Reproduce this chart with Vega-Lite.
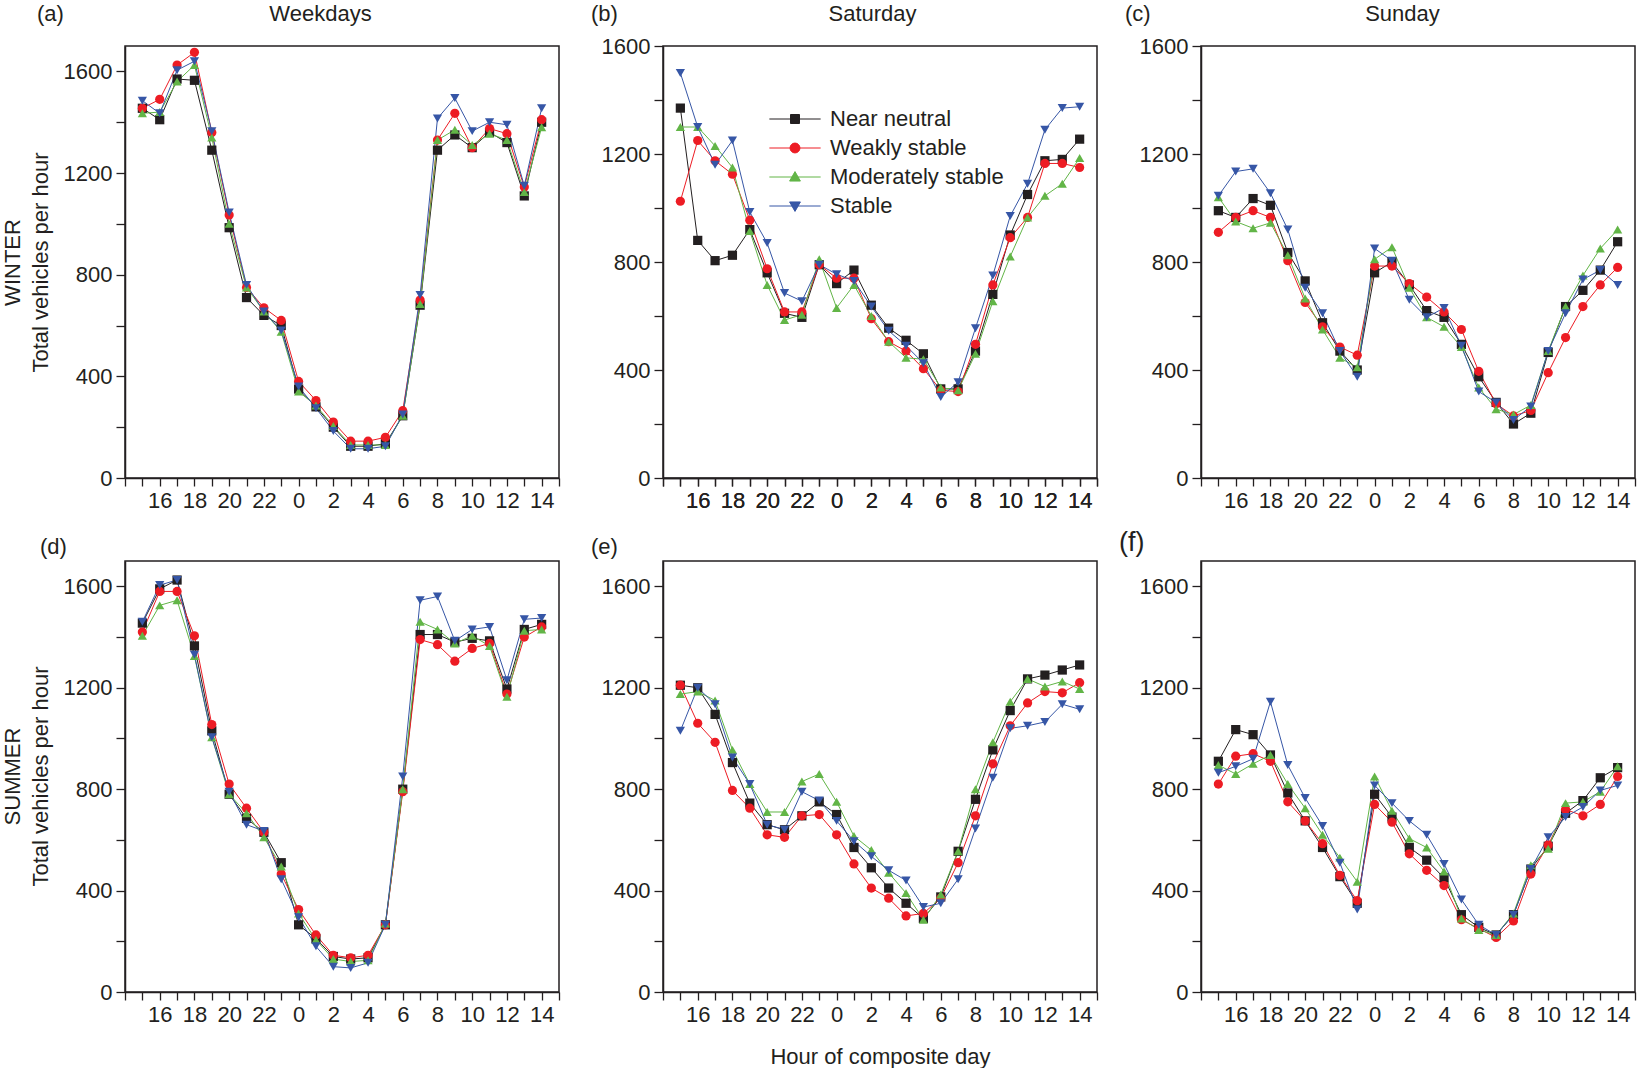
{
  "$schema": "https://vega.github.io/schema/vega-lite/v6.json",
  "padding": {"left": 0, "top": 1, "right": 0, "bottom": 0},
  "config": {
    "font": "Liberation Sans",
    "view": {"stroke": "#231f20", "strokeWidth": 1.5},
    "axis": {"grid": false, "domainColor": "#231f20", "domainWidth": 1.5, "tickColor": "#231f20", "tickWidth": 1.3, "labelFont": "Liberation Sans", "labelFontSize": 22, "labelColor": "#231f20", "labelPadding": 4, "titleFont": "Liberation Sans", "titleFontSize": 22, "titleFontWeight": "normal", "titleColor": "#231f20"},
    "title": {"font": "Liberation Sans", "fontSize": 22, "fontWeight": "normal", "color": "#231f20"},
    "legend": {"labelFont": "Liberation Sans"}
  },
  "datasets": {
    "a": [
      {"c":"Near neutral","i":0,"v":1455},{"c":"Near neutral","i":1,"v":1410},{"c":"Near neutral","i":2,"v":1570},{"c":"Near neutral","i":3,"v":1565},{"c":"Near neutral","i":4,"v":1290},{"c":"Near neutral","i":5,"v":985},{"c":"Near neutral","i":6,"v":710},{"c":"Near neutral","i":7,"v":640},{"c":"Near neutral","i":8,"v":600},{"c":"Near neutral","i":9,"v":350},{"c":"Near neutral","i":10,"v":280},{"c":"Near neutral","i":11,"v":200},{"c":"Near neutral","i":12,"v":125},{"c":"Near neutral","i":13,"v":125},{"c":"Near neutral","i":14,"v":135},{"c":"Near neutral","i":15,"v":245},{"c":"Near neutral","i":16,"v":680},{"c":"Near neutral","i":17,"v":1290},{"c":"Near neutral","i":18,"v":1350},{"c":"Near neutral","i":19,"v":1300},{"c":"Near neutral","i":20,"v":1360},{"c":"Near neutral","i":21,"v":1320},{"c":"Near neutral","i":22,"v":1110},{"c":"Near neutral","i":23,"v":1400},
      {"c":"Weakly stable","i":0,"v":1455},{"c":"Weakly stable","i":1,"v":1490},{"c":"Weakly stable","i":2,"v":1625},{"c":"Weakly stable","i":3,"v":1675},{"c":"Weakly stable","i":4,"v":1360},{"c":"Weakly stable","i":5,"v":1035},{"c":"Weakly stable","i":6,"v":750},{"c":"Weakly stable","i":7,"v":670},{"c":"Weakly stable","i":8,"v":620},{"c":"Weakly stable","i":9,"v":380},{"c":"Weakly stable","i":10,"v":305},{"c":"Weakly stable","i":11,"v":220},{"c":"Weakly stable","i":12,"v":145},{"c":"Weakly stable","i":13,"v":145},{"c":"Weakly stable","i":14,"v":160},{"c":"Weakly stable","i":15,"v":265},{"c":"Weakly stable","i":16,"v":700},{"c":"Weakly stable","i":17,"v":1330},{"c":"Weakly stable","i":18,"v":1435},{"c":"Weakly stable","i":19,"v":1300},{"c":"Weakly stable","i":20,"v":1375},{"c":"Weakly stable","i":21,"v":1355},{"c":"Weakly stable","i":22,"v":1145},{"c":"Weakly stable","i":23,"v":1410},
      {"c":"Moderately stable","i":0,"v":1435},{"c":"Moderately stable","i":1,"v":1440},{"c":"Moderately stable","i":2,"v":1560},{"c":"Moderately stable","i":3,"v":1625},{"c":"Moderately stable","i":4,"v":1340},{"c":"Moderately stable","i":5,"v":1000},{"c":"Moderately stable","i":6,"v":750},{"c":"Moderately stable","i":7,"v":655},{"c":"Moderately stable","i":8,"v":575},{"c":"Moderately stable","i":9,"v":340},{"c":"Moderately stable","i":10,"v":285},{"c":"Moderately stable","i":11,"v":205},{"c":"Moderately stable","i":12,"v":130},{"c":"Moderately stable","i":13,"v":130},{"c":"Moderately stable","i":14,"v":130},{"c":"Moderately stable","i":15,"v":245},{"c":"Moderately stable","i":16,"v":685},{"c":"Moderately stable","i":17,"v":1330},{"c":"Moderately stable","i":18,"v":1370},{"c":"Moderately stable","i":19,"v":1310},{"c":"Moderately stable","i":20,"v":1355},{"c":"Moderately stable","i":21,"v":1330},{"c":"Moderately stable","i":22,"v":1125},{"c":"Moderately stable","i":23,"v":1380},
      {"c":"Stable","i":0,"v":1485},{"c":"Stable","i":1,"v":1435},{"c":"Stable","i":2,"v":1605},{"c":"Stable","i":3,"v":1640},{"c":"Stable","i":4,"v":1365},{"c":"Stable","i":5,"v":1045},{"c":"Stable","i":6,"v":760},{"c":"Stable","i":7,"v":655},{"c":"Stable","i":8,"v":580},{"c":"Stable","i":9,"v":360},{"c":"Stable","i":10,"v":275},{"c":"Stable","i":11,"v":185},{"c":"Stable","i":12,"v":115},{"c":"Stable","i":13,"v":115},{"c":"Stable","i":14,"v":125},{"c":"Stable","i":15,"v":250},{"c":"Stable","i":16,"v":720},{"c":"Stable","i":17,"v":1415},{"c":"Stable","i":18,"v":1495},{"c":"Stable","i":19,"v":1365},{"c":"Stable","i":20,"v":1400},{"c":"Stable","i":21,"v":1390},{"c":"Stable","i":22,"v":1150},{"c":"Stable","i":23,"v":1455}
    ],
    "b": [
      {"c":"Near neutral","i":0,"v":1370},{"c":"Near neutral","i":1,"v":880},{"c":"Near neutral","i":2,"v":805},{"c":"Near neutral","i":3,"v":825},{"c":"Near neutral","i":4,"v":920},{"c":"Near neutral","i":5,"v":760},{"c":"Near neutral","i":6,"v":610},{"c":"Near neutral","i":7,"v":595},{"c":"Near neutral","i":8,"v":790},{"c":"Near neutral","i":9,"v":720},{"c":"Near neutral","i":10,"v":770},{"c":"Near neutral","i":11,"v":640},{"c":"Near neutral","i":12,"v":555},{"c":"Near neutral","i":13,"v":510},{"c":"Near neutral","i":14,"v":460},{"c":"Near neutral","i":15,"v":330},{"c":"Near neutral","i":16,"v":330},{"c":"Near neutral","i":17,"v":470},{"c":"Near neutral","i":18,"v":680},{"c":"Near neutral","i":19,"v":900},{"c":"Near neutral","i":20,"v":1050},{"c":"Near neutral","i":21,"v":1175},{"c":"Near neutral","i":22,"v":1180},{"c":"Near neutral","i":23,"v":1255},
      {"c":"Weakly stable","i":0,"v":1025},{"c":"Weakly stable","i":1,"v":1250},{"c":"Weakly stable","i":2,"v":1175},{"c":"Weakly stable","i":3,"v":1125},{"c":"Weakly stable","i":4,"v":955},{"c":"Weakly stable","i":5,"v":775},{"c":"Weakly stable","i":6,"v":615},{"c":"Weakly stable","i":7,"v":615},{"c":"Weakly stable","i":8,"v":790},{"c":"Weakly stable","i":9,"v":740},{"c":"Weakly stable","i":10,"v":740},{"c":"Weakly stable","i":11,"v":590},{"c":"Weakly stable","i":12,"v":505},{"c":"Weakly stable","i":13,"v":470},{"c":"Weakly stable","i":14,"v":405},{"c":"Weakly stable","i":15,"v":325},{"c":"Weakly stable","i":16,"v":320},{"c":"Weakly stable","i":17,"v":495},{"c":"Weakly stable","i":18,"v":715},{"c":"Weakly stable","i":19,"v":890},{"c":"Weakly stable","i":20,"v":965},{"c":"Weakly stable","i":21,"v":1165},{"c":"Weakly stable","i":22,"v":1165},{"c":"Weakly stable","i":23,"v":1150},
      {"c":"Moderately stable","i":0,"v":1300},{"c":"Moderately stable","i":1,"v":1300},{"c":"Moderately stable","i":2,"v":1230},{"c":"Moderately stable","i":3,"v":1150},{"c":"Moderately stable","i":4,"v":915},{"c":"Moderately stable","i":5,"v":715},{"c":"Moderately stable","i":6,"v":585},{"c":"Moderately stable","i":7,"v":605},{"c":"Moderately stable","i":8,"v":810},{"c":"Moderately stable","i":9,"v":630},{"c":"Moderately stable","i":10,"v":715},{"c":"Moderately stable","i":11,"v":600},{"c":"Moderately stable","i":12,"v":505},{"c":"Moderately stable","i":13,"v":445},{"c":"Moderately stable","i":14,"v":440},{"c":"Moderately stable","i":15,"v":335},{"c":"Moderately stable","i":16,"v":325},{"c":"Moderately stable","i":17,"v":460},{"c":"Moderately stable","i":18,"v":655},{"c":"Moderately stable","i":19,"v":820},{"c":"Moderately stable","i":20,"v":965},{"c":"Moderately stable","i":21,"v":1045},{"c":"Moderately stable","i":22,"v":1090},{"c":"Moderately stable","i":23,"v":1185},
      {"c":"Stable","i":0,"v":1500},{"c":"Stable","i":1,"v":1300},{"c":"Stable","i":2,"v":1160},{"c":"Stable","i":3,"v":1250},{"c":"Stable","i":4,"v":985},{"c":"Stable","i":5,"v":870},{"c":"Stable","i":6,"v":685},{"c":"Stable","i":7,"v":655},{"c":"Stable","i":8,"v":790},{"c":"Stable","i":9,"v":755},{"c":"Stable","i":10,"v":730},{"c":"Stable","i":11,"v":635},{"c":"Stable","i":12,"v":545},{"c":"Stable","i":13,"v":490},{"c":"Stable","i":14,"v":425},{"c":"Stable","i":15,"v":300},{"c":"Stable","i":16,"v":355},{"c":"Stable","i":17,"v":555},{"c":"Stable","i":18,"v":750},{"c":"Stable","i":19,"v":970},{"c":"Stable","i":20,"v":1090},{"c":"Stable","i":21,"v":1290},{"c":"Stable","i":22,"v":1370},{"c":"Stable","i":23,"v":1375}
    ],
    "c": [
      {"c":"Near neutral","i":0,"v":990},{"c":"Near neutral","i":1,"v":965},{"c":"Near neutral","i":2,"v":1035},{"c":"Near neutral","i":3,"v":1010},{"c":"Near neutral","i":4,"v":835},{"c":"Near neutral","i":5,"v":730},{"c":"Near neutral","i":6,"v":575},{"c":"Near neutral","i":7,"v":470},{"c":"Near neutral","i":8,"v":400},{"c":"Near neutral","i":9,"v":760},{"c":"Near neutral","i":10,"v":800},{"c":"Near neutral","i":11,"v":715},{"c":"Near neutral","i":12,"v":620},{"c":"Near neutral","i":13,"v":595},{"c":"Near neutral","i":14,"v":495},{"c":"Near neutral","i":15,"v":375},{"c":"Near neutral","i":16,"v":280},{"c":"Near neutral","i":17,"v":200},{"c":"Near neutral","i":18,"v":240},{"c":"Near neutral","i":19,"v":465},{"c":"Near neutral","i":20,"v":635},{"c":"Near neutral","i":21,"v":695},{"c":"Near neutral","i":22,"v":770},{"c":"Near neutral","i":23,"v":875},
      {"c":"Weakly stable","i":0,"v":910},{"c":"Weakly stable","i":1,"v":965},{"c":"Weakly stable","i":2,"v":990},{"c":"Weakly stable","i":3,"v":965},{"c":"Weakly stable","i":4,"v":805},{"c":"Weakly stable","i":5,"v":650},{"c":"Weakly stable","i":6,"v":560},{"c":"Weakly stable","i":7,"v":485},{"c":"Weakly stable","i":8,"v":455},{"c":"Weakly stable","i":9,"v":785},{"c":"Weakly stable","i":10,"v":785},{"c":"Weakly stable","i":11,"v":720},{"c":"Weakly stable","i":12,"v":670},{"c":"Weakly stable","i":13,"v":615},{"c":"Weakly stable","i":14,"v":550},{"c":"Weakly stable","i":15,"v":395},{"c":"Weakly stable","i":16,"v":275},{"c":"Weakly stable","i":17,"v":230},{"c":"Weakly stable","i":18,"v":250},{"c":"Weakly stable","i":19,"v":390},{"c":"Weakly stable","i":20,"v":520},{"c":"Weakly stable","i":21,"v":635},{"c":"Weakly stable","i":22,"v":715},{"c":"Weakly stable","i":23,"v":780},
      {"c":"Moderately stable","i":0,"v":1040},{"c":"Moderately stable","i":1,"v":950},{"c":"Moderately stable","i":2,"v":925},{"c":"Moderately stable","i":3,"v":945},{"c":"Moderately stable","i":4,"v":825},{"c":"Moderately stable","i":5,"v":665},{"c":"Moderately stable","i":6,"v":550},{"c":"Moderately stable","i":7,"v":445},{"c":"Moderately stable","i":8,"v":410},{"c":"Moderately stable","i":9,"v":810},{"c":"Moderately stable","i":10,"v":855},{"c":"Moderately stable","i":11,"v":705},{"c":"Moderately stable","i":12,"v":595},{"c":"Moderately stable","i":13,"v":560},{"c":"Moderately stable","i":14,"v":485},{"c":"Moderately stable","i":15,"v":335},{"c":"Moderately stable","i":16,"v":255},{"c":"Moderately stable","i":17,"v":235},{"c":"Moderately stable","i":18,"v":270},{"c":"Moderately stable","i":19,"v":470},{"c":"Moderately stable","i":20,"v":635},{"c":"Moderately stable","i":21,"v":750},{"c":"Moderately stable","i":22,"v":850},{"c":"Moderately stable","i":23,"v":920},
      {"c":"Stable","i":0,"v":1045},{"c":"Stable","i":1,"v":1135},{"c":"Stable","i":2,"v":1145},{"c":"Stable","i":3,"v":1055},{"c":"Stable","i":4,"v":920},{"c":"Stable","i":5,"v":705},{"c":"Stable","i":6,"v":610},{"c":"Stable","i":7,"v":470},{"c":"Stable","i":8,"v":375},{"c":"Stable","i":9,"v":850},{"c":"Stable","i":10,"v":805},{"c":"Stable","i":11,"v":660},{"c":"Stable","i":12,"v":595},{"c":"Stable","i":13,"v":630},{"c":"Stable","i":14,"v":490},{"c":"Stable","i":15,"v":320},{"c":"Stable","i":16,"v":280},{"c":"Stable","i":17,"v":215},{"c":"Stable","i":18,"v":265},{"c":"Stable","i":19,"v":470},{"c":"Stable","i":20,"v":610},{"c":"Stable","i":21,"v":735},{"c":"Stable","i":22,"v":770},{"c":"Stable","i":23,"v":715}
    ],
    "d": [
      {"c":"Near neutral","i":0,"v":1455},{"c":"Near neutral","i":1,"v":1590},{"c":"Near neutral","i":2,"v":1625},{"c":"Near neutral","i":3,"v":1365},{"c":"Near neutral","i":4,"v":1030},{"c":"Near neutral","i":5,"v":780},{"c":"Near neutral","i":6,"v":685},{"c":"Near neutral","i":7,"v":630},{"c":"Near neutral","i":8,"v":510},{"c":"Near neutral","i":9,"v":265},{"c":"Near neutral","i":10,"v":210},{"c":"Near neutral","i":11,"v":140},{"c":"Near neutral","i":12,"v":130},{"c":"Near neutral","i":13,"v":135},{"c":"Near neutral","i":14,"v":265},{"c":"Near neutral","i":15,"v":800},{"c":"Near neutral","i":16,"v":1410},{"c":"Near neutral","i":17,"v":1410},{"c":"Near neutral","i":18,"v":1380},{"c":"Near neutral","i":19,"v":1395},{"c":"Near neutral","i":20,"v":1385},{"c":"Near neutral","i":21,"v":1195},{"c":"Near neutral","i":22,"v":1430},{"c":"Near neutral","i":23,"v":1450},
      {"c":"Weakly stable","i":0,"v":1420},{"c":"Weakly stable","i":1,"v":1580},{"c":"Weakly stable","i":2,"v":1580},{"c":"Weakly stable","i":3,"v":1405},{"c":"Weakly stable","i":4,"v":1055},{"c":"Weakly stable","i":5,"v":820},{"c":"Weakly stable","i":6,"v":725},{"c":"Weakly stable","i":7,"v":630},{"c":"Weakly stable","i":8,"v":465},{"c":"Weakly stable","i":9,"v":325},{"c":"Weakly stable","i":10,"v":225},{"c":"Weakly stable","i":11,"v":145},{"c":"Weakly stable","i":12,"v":135},{"c":"Weakly stable","i":13,"v":145},{"c":"Weakly stable","i":14,"v":265},{"c":"Weakly stable","i":15,"v":790},{"c":"Weakly stable","i":16,"v":1390},{"c":"Weakly stable","i":17,"v":1370},{"c":"Weakly stable","i":18,"v":1305},{"c":"Weakly stable","i":19,"v":1355},{"c":"Weakly stable","i":20,"v":1375},{"c":"Weakly stable","i":21,"v":1175},{"c":"Weakly stable","i":22,"v":1400},{"c":"Weakly stable","i":23,"v":1440},
      {"c":"Moderately stable","i":0,"v":1405},{"c":"Moderately stable","i":1,"v":1525},{"c":"Moderately stable","i":2,"v":1545},{"c":"Moderately stable","i":3,"v":1325},{"c":"Moderately stable","i":4,"v":1005},{"c":"Moderately stable","i":5,"v":780},{"c":"Moderately stable","i":6,"v":705},{"c":"Moderately stable","i":7,"v":610},{"c":"Moderately stable","i":8,"v":495},{"c":"Moderately stable","i":9,"v":310},{"c":"Moderately stable","i":10,"v":205},{"c":"Moderately stable","i":11,"v":130},{"c":"Moderately stable","i":12,"v":120},{"c":"Moderately stable","i":13,"v":125},{"c":"Moderately stable","i":14,"v":270},{"c":"Moderately stable","i":15,"v":800},{"c":"Moderately stable","i":16,"v":1460},{"c":"Moderately stable","i":17,"v":1430},{"c":"Moderately stable","i":18,"v":1375},{"c":"Moderately stable","i":19,"v":1405},{"c":"Moderately stable","i":20,"v":1365},{"c":"Moderately stable","i":21,"v":1165},{"c":"Moderately stable","i":22,"v":1425},{"c":"Moderately stable","i":23,"v":1430},
      {"c":"Stable","i":0,"v":1460},{"c":"Stable","i":1,"v":1605},{"c":"Stable","i":2,"v":1625},{"c":"Stable","i":3,"v":1330},{"c":"Stable","i":4,"v":1005},{"c":"Stable","i":5,"v":790},{"c":"Stable","i":6,"v":660},{"c":"Stable","i":7,"v":635},{"c":"Stable","i":8,"v":445},{"c":"Stable","i":9,"v":295},{"c":"Stable","i":10,"v":180},{"c":"Stable","i":11,"v":100},{"c":"Stable","i":12,"v":95},{"c":"Stable","i":13,"v":115},{"c":"Stable","i":14,"v":265},{"c":"Stable","i":15,"v":850},{"c":"Stable","i":16,"v":1545},{"c":"Stable","i":17,"v":1560},{"c":"Stable","i":18,"v":1385},{"c":"Stable","i":19,"v":1430},{"c":"Stable","i":20,"v":1440},{"c":"Stable","i":21,"v":1230},{"c":"Stable","i":22,"v":1470},{"c":"Stable","i":23,"v":1475}
    ],
    "e": [
      {"c":"Near neutral","i":0,"v":1210},{"c":"Near neutral","i":1,"v":1200},{"c":"Near neutral","i":2,"v":1095},{"c":"Near neutral","i":3,"v":905},{"c":"Near neutral","i":4,"v":745},{"c":"Near neutral","i":5,"v":660},{"c":"Near neutral","i":6,"v":640},{"c":"Near neutral","i":7,"v":695},{"c":"Near neutral","i":8,"v":750},{"c":"Near neutral","i":9,"v":700},{"c":"Near neutral","i":10,"v":570},{"c":"Near neutral","i":11,"v":490},{"c":"Near neutral","i":12,"v":410},{"c":"Near neutral","i":13,"v":350},{"c":"Near neutral","i":14,"v":290},{"c":"Near neutral","i":15,"v":375},{"c":"Near neutral","i":16,"v":555},{"c":"Near neutral","i":17,"v":760},{"c":"Near neutral","i":18,"v":955},{"c":"Near neutral","i":19,"v":1110},{"c":"Near neutral","i":20,"v":1235},{"c":"Near neutral","i":21,"v":1250},{"c":"Near neutral","i":22,"v":1270},{"c":"Near neutral","i":23,"v":1290},
      {"c":"Weakly stable","i":0,"v":1210},{"c":"Weakly stable","i":1,"v":1060},{"c":"Weakly stable","i":2,"v":985},{"c":"Weakly stable","i":3,"v":795},{"c":"Weakly stable","i":4,"v":725},{"c":"Weakly stable","i":5,"v":620},{"c":"Weakly stable","i":6,"v":610},{"c":"Weakly stable","i":7,"v":695},{"c":"Weakly stable","i":8,"v":700},{"c":"Weakly stable","i":9,"v":620},{"c":"Weakly stable","i":10,"v":505},{"c":"Weakly stable","i":11,"v":410},{"c":"Weakly stable","i":12,"v":370},{"c":"Weakly stable","i":13,"v":300},{"c":"Weakly stable","i":14,"v":310},{"c":"Weakly stable","i":15,"v":370},{"c":"Weakly stable","i":16,"v":510},{"c":"Weakly stable","i":17,"v":695},{"c":"Weakly stable","i":18,"v":900},{"c":"Weakly stable","i":19,"v":1050},{"c":"Weakly stable","i":20,"v":1140},{"c":"Weakly stable","i":21,"v":1185},{"c":"Weakly stable","i":22,"v":1180},{"c":"Weakly stable","i":23,"v":1220},
      {"c":"Moderately stable","i":0,"v":1175},{"c":"Moderately stable","i":1,"v":1185},{"c":"Moderately stable","i":2,"v":1150},{"c":"Moderately stable","i":3,"v":955},{"c":"Moderately stable","i":4,"v":820},{"c":"Moderately stable","i":5,"v":710},{"c":"Moderately stable","i":6,"v":710},{"c":"Moderately stable","i":7,"v":830},{"c":"Moderately stable","i":8,"v":860},{"c":"Moderately stable","i":9,"v":750},{"c":"Moderately stable","i":10,"v":615},{"c":"Moderately stable","i":11,"v":560},{"c":"Moderately stable","i":12,"v":470},{"c":"Moderately stable","i":13,"v":390},{"c":"Moderately stable","i":14,"v":285},{"c":"Moderately stable","i":15,"v":385},{"c":"Moderately stable","i":16,"v":555},{"c":"Moderately stable","i":17,"v":800},{"c":"Moderately stable","i":18,"v":985},{"c":"Moderately stable","i":19,"v":1145},{"c":"Moderately stable","i":20,"v":1235},{"c":"Moderately stable","i":21,"v":1205},{"c":"Moderately stable","i":22,"v":1225},{"c":"Moderately stable","i":23,"v":1195},
      {"c":"Stable","i":0,"v":1030},{"c":"Stable","i":1,"v":1200},{"c":"Stable","i":2,"v":1135},{"c":"Stable","i":3,"v":925},{"c":"Stable","i":4,"v":820},{"c":"Stable","i":5,"v":660},{"c":"Stable","i":6,"v":640},{"c":"Stable","i":7,"v":790},{"c":"Stable","i":8,"v":755},{"c":"Stable","i":9,"v":675},{"c":"Stable","i":10,"v":595},{"c":"Stable","i":11,"v":535},{"c":"Stable","i":12,"v":480},{"c":"Stable","i":13,"v":440},{"c":"Stable","i":14,"v":335},{"c":"Stable","i":15,"v":350},{"c":"Stable","i":16,"v":445},{"c":"Stable","i":17,"v":645},{"c":"Stable","i":18,"v":845},{"c":"Stable","i":19,"v":1040},{"c":"Stable","i":20,"v":1050},{"c":"Stable","i":21,"v":1065},{"c":"Stable","i":22,"v":1135},{"c":"Stable","i":23,"v":1115}
    ],
    "f": [
      {"c":"Near neutral","i":0,"v":910},{"c":"Near neutral","i":1,"v":1035},{"c":"Near neutral","i":2,"v":1015},{"c":"Near neutral","i":3,"v":935},{"c":"Near neutral","i":4,"v":785},{"c":"Near neutral","i":5,"v":675},{"c":"Near neutral","i":6,"v":570},{"c":"Near neutral","i":7,"v":455},{"c":"Near neutral","i":8,"v":350},{"c":"Near neutral","i":9,"v":780},{"c":"Near neutral","i":10,"v":690},{"c":"Near neutral","i":11,"v":570},{"c":"Near neutral","i":12,"v":520},{"c":"Near neutral","i":13,"v":450},{"c":"Near neutral","i":14,"v":305},{"c":"Near neutral","i":15,"v":255},{"c":"Near neutral","i":16,"v":225},{"c":"Near neutral","i":17,"v":305},{"c":"Near neutral","i":18,"v":485},{"c":"Near neutral","i":19,"v":575},{"c":"Near neutral","i":20,"v":705},{"c":"Near neutral","i":21,"v":755},{"c":"Near neutral","i":22,"v":845},{"c":"Near neutral","i":23,"v":885},
      {"c":"Weakly stable","i":0,"v":820},{"c":"Weakly stable","i":1,"v":930},{"c":"Weakly stable","i":2,"v":940},{"c":"Weakly stable","i":3,"v":910},{"c":"Weakly stable","i":4,"v":750},{"c":"Weakly stable","i":5,"v":675},{"c":"Weakly stable","i":6,"v":585},{"c":"Weakly stable","i":7,"v":460},{"c":"Weakly stable","i":8,"v":360},{"c":"Weakly stable","i":9,"v":740},{"c":"Weakly stable","i":10,"v":670},{"c":"Weakly stable","i":11,"v":545},{"c":"Weakly stable","i":12,"v":480},{"c":"Weakly stable","i":13,"v":420},{"c":"Weakly stable","i":14,"v":285},{"c":"Weakly stable","i":15,"v":250},{"c":"Weakly stable","i":16,"v":215},{"c":"Weakly stable","i":17,"v":280},{"c":"Weakly stable","i":18,"v":465},{"c":"Weakly stable","i":19,"v":580},{"c":"Weakly stable","i":20,"v":720},{"c":"Weakly stable","i":21,"v":695},{"c":"Weakly stable","i":22,"v":740},{"c":"Weakly stable","i":23,"v":850},
      {"c":"Moderately stable","i":0,"v":895},{"c":"Moderately stable","i":1,"v":860},{"c":"Moderately stable","i":2,"v":900},{"c":"Moderately stable","i":3,"v":935},{"c":"Moderately stable","i":4,"v":820},{"c":"Moderately stable","i":5,"v":725},{"c":"Moderately stable","i":6,"v":620},{"c":"Moderately stable","i":7,"v":530},{"c":"Moderately stable","i":8,"v":435},{"c":"Moderately stable","i":9,"v":850},{"c":"Moderately stable","i":10,"v":715},{"c":"Moderately stable","i":11,"v":605},{"c":"Moderately stable","i":12,"v":570},{"c":"Moderately stable","i":13,"v":475},{"c":"Moderately stable","i":14,"v":290},{"c":"Moderately stable","i":15,"v":245},{"c":"Moderately stable","i":16,"v":225},{"c":"Moderately stable","i":17,"v":310},{"c":"Moderately stable","i":18,"v":500},{"c":"Moderately stable","i":19,"v":565},{"c":"Moderately stable","i":20,"v":745},{"c":"Moderately stable","i":21,"v":750},{"c":"Moderately stable","i":22,"v":790},{"c":"Moderately stable","i":23,"v":890},
      {"c":"Stable","i":0,"v":865},{"c":"Stable","i":1,"v":890},{"c":"Stable","i":2,"v":920},{"c":"Stable","i":3,"v":1145},{"c":"Stable","i":4,"v":895},{"c":"Stable","i":5,"v":765},{"c":"Stable","i":6,"v":655},{"c":"Stable","i":7,"v":510},{"c":"Stable","i":8,"v":325},{"c":"Stable","i":9,"v":815},{"c":"Stable","i":10,"v":745},{"c":"Stable","i":11,"v":675},{"c":"Stable","i":12,"v":620},{"c":"Stable","i":13,"v":505},{"c":"Stable","i":14,"v":365},{"c":"Stable","i":15,"v":265},{"c":"Stable","i":16,"v":225},{"c":"Stable","i":17,"v":305},{"c":"Stable","i":18,"v":485},{"c":"Stable","i":19,"v":610},{"c":"Stable","i":20,"v":690},{"c":"Stable","i":21,"v":730},{"c":"Stable","i":22,"v":795},{"c":"Stable","i":23,"v":815}
    ]
  },
  "columns": 3,
  "bounds": "flush",
  "spacing": {"row": 83, "column": 104},
  "resolve": {"scale": {"color": "independent", "shape": "independent", "fill": "independent", "stroke": "independent"}},
  "concat": [
    {
      "width": 434, "height": 432,
      "data": {"name": "a"},
      "title": {"text": "(a)", "anchor": "start", "frame": "group", "dx": -88, "dy": 41, "offset": 0, "baseline": "alphabetic"},
      "encoding": {
        "x": {"field": "i", "type": "quantitative", "scale": {"domain": [-1, 24], "nice": false, "zero": false},
          "axis": {"values": [-1,0,1,2,3,4,5,6,7,8,9,10,11,12,13,14,15,16,17,18,19,20,21,22,23,24], "labelExpr": "datum.value >= 0 && datum.value <= 23 && (datum.value + 15) % 2 == 0 ? '' + ((datum.value + 15) % 24) : ''", "tickSize": 8, "labelOverlap": false, "labelFlush": false, "labelBound": false, "title": null}},
        "y": {"field": "v", "type": "quantitative", "scale": {"domain": [0, 1700], "nice": false},
          "axis": {"values": [0,200,400,600,800,1000,1200,1400,1600], "format": "d", "labelExpr": "datum.value % 400 == 0 ? datum.label : ''", "tickSize": 9, "encode": {"ticks": {"x2": {"value": {"expr": "datum.value % 400 == 0 ? -9 : -5"}}}},
            "title": ["WINTER", "Total vehicles per hour"], "titleX": -106, "titleY": 216, "titleAngle": -90, "titleAlign": "center", "titleBaseline": "alphabetic", "titleLineHeight": 28}},
        "color": {"field": "c", "type": "nominal", "scale": {"domain": ["Near neutral", "Weakly stable", "Moderately stable", "Stable"], "range": ["#231f20", "#ed1c24", "#62b547", "#3656a6"]}, "legend": null}
      },
      "layer": [
        {"mark": {"type": "line", "strokeWidth": 1}},
        {"mark": {"type": "point", "filled": true, "size": 85, "opacity": 1},
          "encoding": {
            "x": {"field": "i", "type": "quantitative", "scale": {"domain": [-1, 24], "nice": false, "zero": false},
              "axis": {"orient": "top", "labels": false, "ticks": false, "domain": false, "title": "Weekdays", "titleX": 195, "titleY": -26, "titleAlign": "center", "titleBaseline": "alphabetic"}},
            "shape": {"field": "c", "type": "nominal", "scale": {"domain": ["Near neutral", "Weakly stable", "Moderately stable", "Stable"], "range": ["square", "circle", "triangle-up", "triangle-down"]}, "legend": null}
          }}
      ],
      "resolve": {"axis": {"x": "independent"}}
    },
    {
      "width": 434, "height": 432,
      "data": {"name": "b"},
      "title": {"text": "(b)", "anchor": "start", "frame": "group", "dx": -72, "dy": 41, "offset": 0, "baseline": "alphabetic"},
      "encoding": {
        "x": {"field": "i", "type": "quantitative", "scale": {"domain": [-1, 24], "nice": false, "zero": false},
          "axis": {"values": [-1,0,1,2,3,4,5,6,7,8,9,10,11,12,13,14,15,16,17,18,19,20,21,22,23,24], "labelExpr": "datum.value >= 0 && datum.value <= 23 && (datum.value + 15) % 2 == 0 ? '' + ((datum.value + 15) % 24) : ''", "tickSize": 8, "labelOverlap": false, "labelFlush": false, "labelBound": false, "title": null}},
        "y": {"field": "v", "type": "quantitative", "scale": {"domain": [0, 1600], "nice": false},
          "axis": {"values": [0,200,400,600,800,1000,1200,1400,1600], "format": "d", "labelExpr": "datum.value % 400 == 0 ? datum.label : ''", "tickSize": 9, "encode": {"ticks": {"x2": {"value": {"expr": "datum.value % 400 == 0 ? -9 : -5"}}}}, "title": null}},
        "color": {"field": "c", "type": "nominal", "scale": {"domain": ["Near neutral", "Weakly stable", "Moderately stable", "Stable"], "range": ["#231f20", "#ed1c24", "#62b547", "#3656a6"]}, "legend": null}
      },
      "layer": [
        {"mark": {"type": "line", "strokeWidth": 1}},
        {"mark": {"type": "point", "filled": true, "size": 85, "opacity": 1},
          "encoding": {
            "x": {"field": "i", "type": "quantitative", "scale": {"domain": [-1, 24], "nice": false, "zero": false},
              "axis": {"orient": "top", "labels": false, "ticks": false, "domain": false, "title": "Saturday", "titleX": 209, "titleY": -26, "titleAlign": "center", "titleBaseline": "alphabetic"}},
            "shape": {"field": "c", "type": "nominal", "scale": {"domain": ["Near neutral", "Weakly stable", "Moderately stable", "Stable"], "range": ["square", "circle", "triangle-up", "triangle-down"]}, "legend": null}
          }},
        {"transform": [{"filter": "false"}],
          "mark": {"type": "point", "filled": true, "size": 81, "strokeWidth": 1, "opacity": 1},
          "encoding": {
            "fill": {"field": "c", "type": "nominal", "scale": {"domain": ["Near neutral", "Weakly stable", "Moderately stable", "Stable"], "range": ["#231f20", "#ed1c24", "#62b547", "#3656a6"]},
              "legend": {"orient": "none", "legendX": 121, "legendY": 62, "title": null, "padding": 0, "symbolSize": 81, "symbolStrokeWidth": 1, "symbolOpacity": 1, "labelFontSize": 22, "labelColor": "#231f20", "labelOffset": 24, "rowPadding": 7, "labelLimit": 400}},
            "stroke": {"field": "c", "type": "nominal", "scale": {"domain": ["Near neutral", "Weakly stable", "Moderately stable", "Stable"], "range": ["#231f20", "#ed1c24", "#62b547", "#3656a6"]},
              "legend": {"orient": "none", "legendX": 121, "legendY": 62, "title": null, "padding": 0, "symbolSize": 81, "symbolStrokeWidth": 1, "symbolOpacity": 1, "labelFontSize": 22, "labelColor": "#231f20", "labelOffset": 24, "rowPadding": 7, "labelLimit": 400}},
            "shape": {"field": "c", "type": "nominal", "scale": {"domain": ["Near neutral", "Weakly stable", "Moderately stable", "Stable"], "range": ["M-5.7,0H5.7M-1,-1H1V1H-1Z", "M-5.7,0H5.7M-1.1,0A1.1,1.1,0,1,0,1.1,0A1.1,1.1,0,1,0,-1.1,0Z", "M-5.7,0H5.7M0,-1.2L1.2,0.9H-1.2Z", "M-5.7,0H5.7M0,1.2L1.2,-0.9H-1.2Z"]},
              "legend": {"orient": "none", "legendX": 121, "legendY": 62, "title": null, "padding": 0, "symbolSize": 81, "symbolStrokeWidth": 1, "symbolOpacity": 1, "labelFontSize": 22, "labelColor": "#231f20", "labelOffset": 24, "rowPadding": 7, "labelLimit": 400}}
          }}
      ],
      "resolve": {"axis": {"x": "independent"}, "scale": {"shape": "independent", "fill": "independent", "stroke": "independent"}}
    },
    {
      "width": 434, "height": 432,
      "data": {"name": "c"},
      "title": {"text": "(c)", "anchor": "start", "frame": "group", "dx": -76, "dy": 41, "offset": 0, "baseline": "alphabetic"},
      "encoding": {
        "x": {"field": "i", "type": "quantitative", "scale": {"domain": [-1, 24], "nice": false, "zero": false},
          "axis": {"values": [-1,0,1,2,3,4,5,6,7,8,9,10,11,12,13,14,15,16,17,18,19,20,21,22,23,24], "labelExpr": "datum.value >= 0 && datum.value <= 23 && (datum.value + 15) % 2 == 0 ? '' + ((datum.value + 15) % 24) : ''", "tickSize": 8, "labelOverlap": false, "labelFlush": false, "labelBound": false, "title": null}},
        "y": {"field": "v", "type": "quantitative", "scale": {"domain": [0, 1600], "nice": false},
          "axis": {"values": [0,200,400,600,800,1000,1200,1400,1600], "format": "d", "labelExpr": "datum.value % 400 == 0 ? datum.label : ''", "tickSize": 9, "encode": {"ticks": {"x2": {"value": {"expr": "datum.value % 400 == 0 ? -9 : -5"}}}}, "title": null}},
        "color": {"field": "c", "type": "nominal", "scale": {"domain": ["Near neutral", "Weakly stable", "Moderately stable", "Stable"], "range": ["#231f20", "#ed1c24", "#62b547", "#3656a6"]}, "legend": null}
      },
      "layer": [
        {"mark": {"type": "line", "strokeWidth": 1}},
        {"mark": {"type": "point", "filled": true, "size": 85, "opacity": 1},
          "encoding": {
            "x": {"field": "i", "type": "quantitative", "scale": {"domain": [-1, 24], "nice": false, "zero": false},
              "axis": {"orient": "top", "labels": false, "ticks": false, "domain": false, "title": "Sunday", "titleX": 201, "titleY": -26, "titleAlign": "center", "titleBaseline": "alphabetic"}},
            "shape": {"field": "c", "type": "nominal", "scale": {"domain": ["Near neutral", "Weakly stable", "Moderately stable", "Stable"], "range": ["square", "circle", "triangle-up", "triangle-down"]}, "legend": null}
          }}
      ],
      "resolve": {"axis": {"x": "independent"}}
    },
    {
      "width": 434, "height": 431,
      "data": {"name": "d"},
      "title": {"text": "(d)", "anchor": "start", "frame": "group", "dx": -85, "dy": 22, "offset": 7, "baseline": "alphabetic"},
      "encoding": {
        "x": {"field": "i", "type": "quantitative", "scale": {"domain": [-1, 24], "nice": false, "zero": false},
          "axis": {"values": [-1,0,1,2,3,4,5,6,7,8,9,10,11,12,13,14,15,16,17,18,19,20,21,22,23,24], "labelExpr": "datum.value >= 0 && datum.value <= 23 && (datum.value + 15) % 2 == 0 ? '' + ((datum.value + 15) % 24) : ''", "tickSize": 8, "labelOverlap": false, "labelFlush": false, "labelBound": false, "title": null}},
        "y": {"field": "v", "type": "quantitative", "scale": {"domain": [0, 1700], "nice": false},
          "axis": {"values": [0,200,400,600,800,1000,1200,1400,1600], "format": "d", "labelExpr": "datum.value % 400 == 0 ? datum.label : ''", "tickSize": 9, "encode": {"ticks": {"x2": {"value": {"expr": "datum.value % 400 == 0 ? -9 : -5"}}}},
            "title": ["SUMMER", "Total vehicles per hour"], "titleX": -106, "titleY": 215, "titleAngle": -90, "titleAlign": "center", "titleBaseline": "alphabetic", "titleLineHeight": 28}},
        "color": {"field": "c", "type": "nominal", "scale": {"domain": ["Near neutral", "Weakly stable", "Moderately stable", "Stable"], "range": ["#231f20", "#ed1c24", "#62b547", "#3656a6"]}, "legend": null}
      },
      "layer": [
        {"mark": {"type": "line", "strokeWidth": 1}},
        {"mark": {"type": "point", "filled": true, "size": 85, "opacity": 1},
          "encoding": {
            "shape": {"field": "c", "type": "nominal", "scale": {"domain": ["Near neutral", "Weakly stable", "Moderately stable", "Stable"], "range": ["square", "circle", "triangle-up", "triangle-down"]}, "legend": null}
          }}
      ]
    },
    {
      "width": 434, "height": 431,
      "data": {"name": "e"},
      "title": {"text": "(e)", "anchor": "start", "frame": "group", "dx": -72, "dy": 22, "offset": 7, "baseline": "alphabetic"},
      "encoding": {
        "x": {"field": "i", "type": "quantitative", "scale": {"domain": [-1, 24], "nice": false, "zero": false},
          "axis": {"values": [-1,0,1,2,3,4,5,6,7,8,9,10,11,12,13,14,15,16,17,18,19,20,21,22,23,24], "labelExpr": "datum.value >= 0 && datum.value <= 23 && (datum.value + 15) % 2 == 0 ? '' + ((datum.value + 15) % 24) : ''", "tickSize": 8, "labelOverlap": false, "labelFlush": false, "labelBound": false,
            "title": "Hour of composite day", "titleX": 217, "titleY": 71, "titleAlign": "center", "titleBaseline": "alphabetic"}},
        "y": {"field": "v", "type": "quantitative", "scale": {"domain": [0, 1700], "nice": false},
          "axis": {"values": [0,200,400,600,800,1000,1200,1400,1600], "format": "d", "labelExpr": "datum.value % 400 == 0 ? datum.label : ''", "tickSize": 9, "encode": {"ticks": {"x2": {"value": {"expr": "datum.value % 400 == 0 ? -9 : -5"}}}}, "title": null}},
        "color": {"field": "c", "type": "nominal", "scale": {"domain": ["Near neutral", "Weakly stable", "Moderately stable", "Stable"], "range": ["#231f20", "#ed1c24", "#62b547", "#3656a6"]}, "legend": null}
      },
      "layer": [
        {"mark": {"type": "line", "strokeWidth": 1}},
        {"mark": {"type": "point", "filled": true, "size": 85, "opacity": 1},
          "encoding": {
            "shape": {"field": "c", "type": "nominal", "scale": {"domain": ["Near neutral", "Weakly stable", "Moderately stable", "Stable"], "range": ["square", "circle", "triangle-up", "triangle-down"]}, "legend": null}
          }}
      ]
    },
    {
      "width": 434, "height": 431,
      "data": {"name": "f"},
      "title": {"text": "(f)", "anchor": "start", "frame": "group", "dx": -82, "dy": 29, "offset": 12, "baseline": "alphabetic", "fontSize": 27},
      "encoding": {
        "x": {"field": "i", "type": "quantitative", "scale": {"domain": [-1, 24], "nice": false, "zero": false},
          "axis": {"values": [-1,0,1,2,3,4,5,6,7,8,9,10,11,12,13,14,15,16,17,18,19,20,21,22,23,24], "labelExpr": "datum.value >= 0 && datum.value <= 23 && (datum.value + 15) % 2 == 0 ? '' + ((datum.value + 15) % 24) : ''", "tickSize": 8, "labelOverlap": false, "labelFlush": false, "labelBound": false, "title": null}},
        "y": {"field": "v", "type": "quantitative", "scale": {"domain": [0, 1700], "nice": false},
          "axis": {"values": [0,200,400,600,800,1000,1200,1400,1600], "format": "d", "labelExpr": "datum.value % 400 == 0 ? datum.label : ''", "tickSize": 9, "encode": {"ticks": {"x2": {"value": {"expr": "datum.value % 400 == 0 ? -9 : -5"}}}}, "title": null}},
        "color": {"field": "c", "type": "nominal", "scale": {"domain": ["Near neutral", "Weakly stable", "Moderately stable", "Stable"], "range": ["#231f20", "#ed1c24", "#62b547", "#3656a6"]}, "legend": null}
      },
      "layer": [
        {"mark": {"type": "line", "strokeWidth": 1}},
        {"mark": {"type": "point", "filled": true, "size": 85, "opacity": 1},
          "encoding": {
            "shape": {"field": "c", "type": "nominal", "scale": {"domain": ["Near neutral", "Weakly stable", "Moderately stable", "Stable"], "range": ["square", "circle", "triangle-up", "triangle-down"]}, "legend": null}
          }}
      ]
    }
  ]
}
